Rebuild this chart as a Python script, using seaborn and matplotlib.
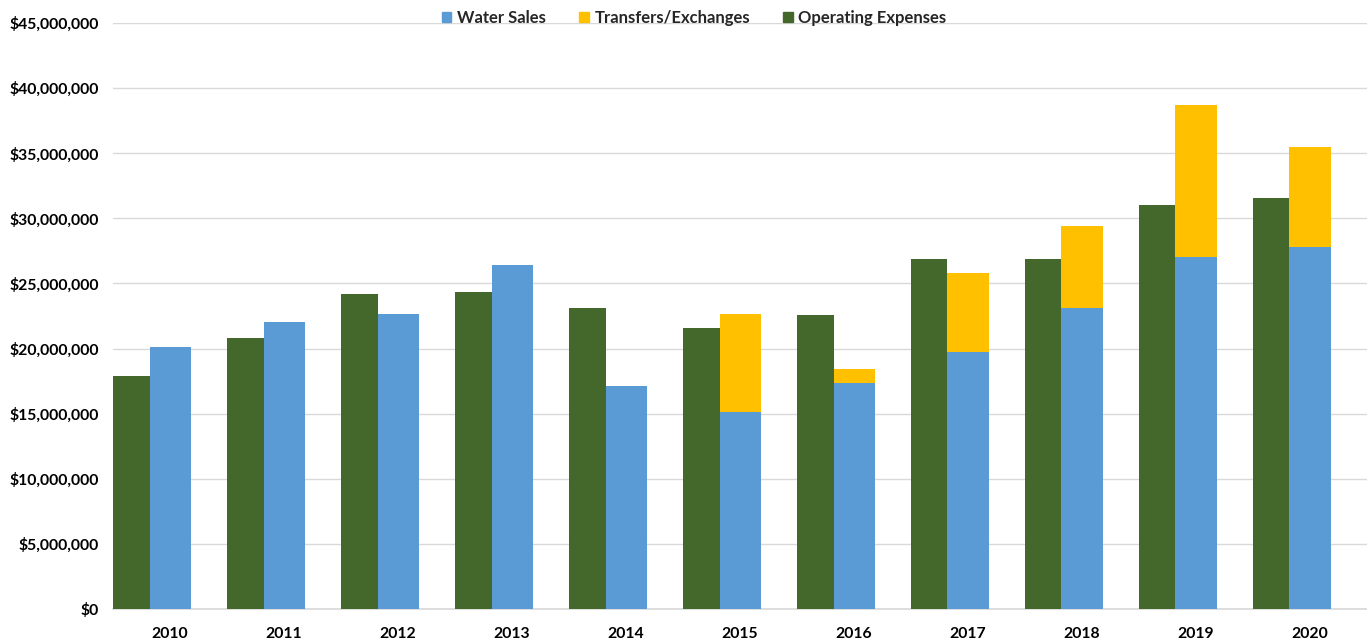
import numpy as np
import pandas as pd
import matplotlib
matplotlib.use("Agg")
import matplotlib.pyplot as plt
from matplotlib.ticker import FuncFormatter
from matplotlib.patches import Patch
import seaborn as sns

# 数据（从图上读取的估计值，单位：美元）
years = [2010, 2011, 2012, 2013, 2014, 2015, 2016, 2017, 2018, 2019, 2020]
water_sales = [20.1e6, 22.05e6, 22.65e6, 26.45e6, 17.15e6, 15.15e6, 17.35e6, 19.7e6, 23.1e6, 27.05e6, 27.8e6]
transfers = [0, 0, 0, 0, 0, 7.5e6, 1.05e6, 6.1e6, 6.3e6, 11.65e6, 7.65e6]
operating_expenses = [17.9e6, 20.8e6, 24.2e6, 24.35e6, 23.1e6, 21.6e6, 22.55e6, 26.85e6, 26.85e6, 31.05e6, 31.6e6]
y_ticks = [0, 5e6, 10e6, 15e6, 20e6, 25e6, 30e6, 35e6, 40e6, 45e6]

c_blue = "#5B9BD5"
c_yellow = "#FFC000"
c_green = "#44682C"

sns.set_theme(style="white")
plt.rcParams['font.family'] = ['Lato', 'DejaVu Sans']

df = pd.DataFrame({
    "year": years,
    "water": water_sales,
    "total": np.array(water_sales) + np.array(transfers),
    "opex": operating_expenses,
})
df["x_opex"] = df["year"] - 0.34

fig = plt.figure(figsize=(13.67, 6.44), dpi=100)
ax = fig.add_axes([0.0827, 0.0543, 0.9173, 0.9100])

# 堆叠：先画总高度（黄色），再画水费（蓝色）
sns.barplot(data=df, x="year", y="total", native_scale=True, width=0.36,
            color=c_yellow, saturation=1, linewidth=0, ax=ax, zorder=2)
sns.barplot(data=df, x="year", y="water", native_scale=True, width=0.36,
            color=c_blue, saturation=1, linewidth=0, ax=ax, zorder=3)
sns.barplot(data=df, x="x_opex", y="opex", native_scale=True, width=0.32,
            color=c_green, saturation=1, linewidth=0, ax=ax, zorder=3)

ax.set_xlim(years[0] - 0.5, years[-1] + 0.5)
ax.set_ylim(0, 45e6)
ax.set_yticks(y_ticks)
ax.yaxis.set_major_formatter(FuncFormatter(lambda v, p: "${:,.0f}".format(v)))
ax.set_xticks(years)
ax.set_xticklabels([str(y) for y in years])
ax.grid(axis="y", color="#d9d9d9", linewidth=1, zorder=0)
ax.set_axisbelow(True)
for s in ["top", "right", "left"]:
    ax.spines[s].set_visible(False)
ax.spines["bottom"].set_color("#d9d9d9")
ax.tick_params(axis="both", length=0, labelsize=11.3, colors="black")
ax.tick_params(axis="y", pad=10)
ax.tick_params(axis="x", pad=13)
for lbl in ax.get_xticklabels() + ax.get_yticklabels():
    lbl.set_fontweight("bold")
ax.set_xlabel("")
ax.set_ylabel("")

handles = [Patch(color=c_blue, label="Water Sales"),
           Patch(color=c_yellow, label="Transfers/Exchanges"),
           Patch(color=c_green, label="Operating Expenses")]
leg = fig.legend(handles=handles, loc="upper center", bbox_to_anchor=(0.508, 1.008),
                 ncol=3, frameon=False, handlelength=0.55, handleheight=0.55,
                 handletextpad=0.35, columnspacing=2.0,
                 prop={"weight": "bold", "size": 12})

plt.savefig("out.png", dpi=100)
